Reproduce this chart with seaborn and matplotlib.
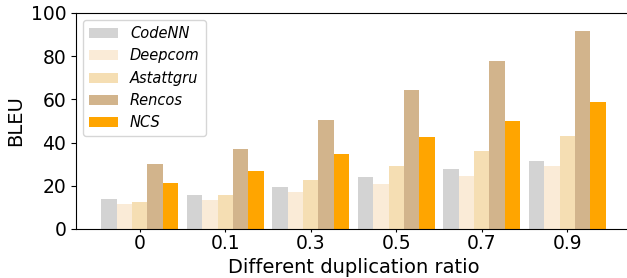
import matplotlib
matplotlib.use("Agg")
import matplotlib.pyplot as plt
import pandas as pd
import seaborn as sns

# Valeurs (BLEU)
ratios = ["0", "0.1", "0.3", "0.5", "0.7", "0.9"]
models = ["CodeNN", "Deepcom", "Astattgru", "Rencos", "NCS"]
codenn = [13.7, 15.6, 19.3, 23.9, 27.6, 31.4]
deepcom = [11.4, 13.2, 17.0, 20.7, 24.4, 29.0]
astattgru = [12.5, 15.6, 22.5, 29.0, 36.0, 43.0]
rencos = [30.1, 36.9, 50.4, 64.4, 77.8, 91.8]
ncs = [21.3, 26.7, 34.6, 42.5, 50.0, 58.8]
colors = ["lightgray", "antiquewhite", "wheat", "tan", "orange"]

series = [codenn, deepcom, astattgru, rencos, ncs]
df = pd.DataFrame(
    [(r, m, v) for m, vals in zip(models, series) for r, v in zip(ratios, vals)],
    columns=["ratio", "model", "bleu"],
)

fig = plt.figure(figsize=(6.27, 2.78), dpi=100)
ax = fig.add_axes([76 / 627, 1 - 229 / 278, 555 / 627, 216 / 278])

sns.barplot(
    data=df, x="ratio", y="bleu", hue="model", order=ratios, hue_order=models,
    palette=colors, saturation=1, width=0.9, errorbar=None, ax=ax,
)

ax.set_xlim(-0.745, 5.745)
ax.set_ylim(0, 100)
ax.set_yticks([0, 20, 40, 60, 80, 100])
ax.tick_params(axis="y", labelsize=13.5)
ax.tick_params(axis="x", labelsize=13.5, length=2.5, pad=1)
ax.set_xlabel("Different duplication ratio", fontsize=14, labelpad=3.5)
ax.set_ylabel("BLEU", fontsize=14)
ax.legend(loc="upper left", prop={"style": "italic", "size": 10.5})

fig.savefig("out.png", dpi=100)
